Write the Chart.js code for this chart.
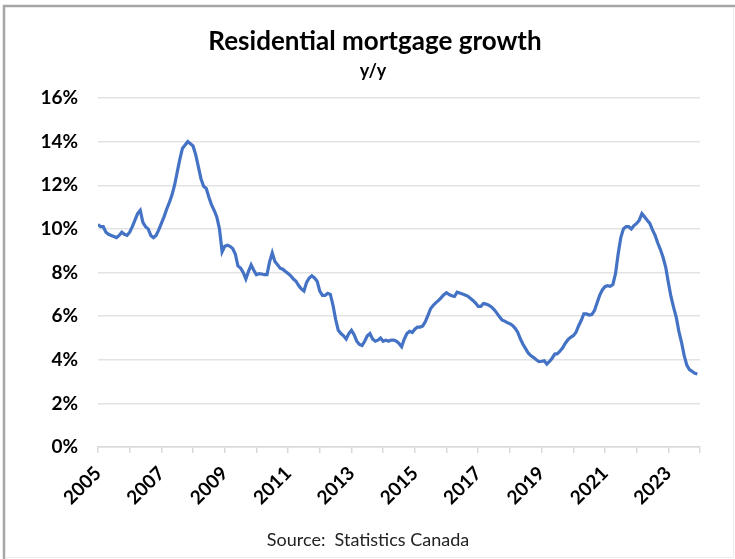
<!DOCTYPE html>
<html>
<head>
<meta charset="utf-8">
<title>Residential mortgage growth</title>
<script src="https://cdn.jsdelivr.net/npm/chart.js@4/dist/chart.umd.min.js"></script>
<style>
  html, body { margin: 0; padding: 0; background: #fff; }
  #wrap { position: relative; width: 735px; height: 559px; }
</style>
</head>
<body>
<div id="wrap">
  <canvas id="grafico" width="735" height="559"></canvas>
</div>
<script>
// Residential mortgage credit growth, y/y %, monthly (Jan..Dec of each year)
const anos = [2005, 2006, 2007, 2008, 2009, 2010, 2011, 2012, 2013, 2014,
              2015, 2016, 2017, 2018, 2019, 2020, 2021, 2022, 2023];

const y2005 = [10.2, 10.1, 10.1, 9.85, 9.75, 9.7, 9.65, 9.6, 9.7, 9.85, 9.75, 9.7];
const y2006 = [9.85, 10.1, 10.4, 10.7, 10.85, 10.3, 10.1, 10.0, 9.7, 9.6, 9.7, 9.95];
const y2007 = [10.25, 10.55, 10.9, 11.2, 11.55, 12.0, 12.6, 13.2, 13.7, 13.85, 14.0, 13.9];
const y2008 = [13.8, 13.4, 12.85, 12.3, 11.95, 11.85, 11.45, 11.1, 10.85, 10.55, 10.0, 8.95];
const y2009 = [9.2, 9.25, 9.2, 9.1, 8.85, 8.3, 8.2, 8.0, 7.7, 8.05, 8.35, 8.1];
const y2010 = [7.9, 7.95, 7.93, 7.9, 7.9, 8.5, 8.9, 8.5, 8.35, 8.2, 8.15, 8.05];
const y2011 = [7.95, 7.85, 7.7, 7.6, 7.4, 7.25, 7.15, 7.55, 7.75, 7.85, 7.75, 7.6];
const y2012 = [7.15, 6.95, 6.95, 7.05, 7.0, 6.5, 5.85, 5.35, 5.2, 5.1, 4.95, 5.2];
const y2013 = [5.35, 5.15, 4.85, 4.7, 4.65, 4.85, 5.1, 5.2, 4.95, 4.85, 4.9, 5.0];
const y2014 = [4.85, 4.9, 4.85, 4.9, 4.9, 4.85, 4.75, 4.6, 4.95, 5.2, 5.3, 5.25];
const y2015 = [5.4, 5.5, 5.5, 5.55, 5.75, 6.05, 6.35, 6.5, 6.62, 6.72, 6.85, 6.98];
const y2016 = [7.07, 6.99, 6.93, 6.9, 7.1, 7.06, 7.02, 6.97, 6.92, 6.82, 6.72, 6.6];
const y2017 = [6.45, 6.45, 6.58, 6.55, 6.5, 6.42, 6.3, 6.15, 5.98, 5.82, 5.77, 5.7];
const y2018 = [5.65, 5.57, 5.44, 5.25, 4.95, 4.7, 4.5, 4.3, 4.18, 4.1, 4.0, 3.92];
const y2019 = [3.93, 3.95, 3.8, 3.92, 4.07, 4.26, 4.28, 4.4, 4.55, 4.76, 4.92, 5.03];
const y2020 = [5.1, 5.25, 5.55, 5.8, 6.1, 6.1, 6.05, 6.07, 6.25, 6.6, 6.95, 7.2];
const y2021 = [7.35, 7.4, 7.37, 7.45, 7.95, 8.85, 9.6, 10.0, 10.1, 10.1, 10.0, 10.15];
const y2022 = [10.25, 10.4, 10.7, 10.55, 10.4, 10.25, 9.95, 9.7, 9.35, 9.05, 8.7, 8.25];
const y2023 = [7.55, 6.9, 6.4, 5.95, 5.3, 4.8, 4.2, 3.75, 3.55, 3.47, 3.38, 3.35];

const porAno = [y2005, y2006, y2007, y2008, y2009, y2010, y2011, y2012, y2013, y2014,
                y2015, y2016, y2017, y2018, y2019, y2020, y2021, y2022, y2023];

// eixo y: 0% a 16%, de 2 em 2
const yMin = 0, yMax = 16, yPasso = 2;

const titulo = 'Residential mortgage growth';
const subtitulo = 'y/y';
const fonte = 'Source:  Statistics Canada';

// monta os pontos (ano + mês/12, valor)
const pontos = [];
anos.forEach(function(ano, i) {
  porAno[i].forEach(function(v, m) {
    pontos.push({ x: ano + m / 12, y: v });
  });
});

const familia = 'Lato, "Open Sans", sans-serif';

// moldura + títulos + fonte desenhados no canvas
const textosExtras = {
  id: 'textosExtras',
  beforeDraw(chart) {
    const ctx = chart.ctx;
    ctx.save();
    ctx.fillStyle = '#fff';
    ctx.fillRect(0, 0, chart.width, chart.height);
    ctx.strokeStyle = '#a6a6a6';
    ctx.lineWidth = 2.5;
    ctx.beginPath();
    ctx.moveTo(4, chart.height);
    ctx.lineTo(4, 6);
    ctx.lineTo(chart.width, 6);
    ctx.stroke();
    ctx.strokeStyle = '#ececec';
    ctx.lineWidth = 1;
    ctx.beginPath();
    ctx.moveTo(733.5, 8);
    ctx.lineTo(733.5, 557.5);
    ctx.lineTo(5, 557.5);
    ctx.stroke();
    ctx.restore();
  },
  afterDraw(chart) {
    const ctx = chart.ctx;
    ctx.save();
    ctx.textAlign = 'center';
    ctx.textBaseline = 'middle';
    ctx.fillStyle = '#000';
    ctx.font = 'bold 26px ' + familia;
    ctx.fillText(titulo, 375, 42);
    ctx.font = 'bold 18px ' + familia;
    ctx.fillText(subtitulo, 373, 71);
    ctx.fillStyle = '#222';
    ctx.font = '18px ' + familia;
    ctx.fillText(fonte, 368, 540);
    ctx.restore();
  }
};

const ctx = document.getElementById('grafico').getContext('2d');
window.grafico = new Chart(ctx, {
  type: 'line',
  data: {
    datasets: [{
      label: 'Residential mortgage growth',
      data: pontos,
      borderColor: '#4472C4',
      borderWidth: 3.2,
      pointRadius: 0,
      tension: 0,
      fill: false
    }]
  },
  options: {
    responsive: false,
    animation: false,
    layout: { padding: { top: 98, left: 5, right: 35, bottom: 0 } },
    plugins: {
      legend: { display: false },
      tooltip: { enabled: false }
    },
    scales: {
      x: { // horizontal
        type: 'linear',
        min: 2005,
        max: 2024,
        afterFit: function(s) { s.height = 112; },
        afterBuildTicks: function(s) {
          s.ticks = [];
          for (let a = 2005; a <= 2024; a++) s.ticks.push({ value: a });
        },
        ticks: {
          autoSkip: false,
          maxRotation: 45,
          minRotation: 45,
          padding: 9,
          color: '#000',
          font: { family: familia, size: 19, weight: 'bold' },
          callback: function(v) { return (v % 2 === 1 && v < 2024) ? String(v) : ''; }
        },
        grid: {
          drawOnChartArea: false,
          drawTicks: true,
          tickLength: 6,
          color: '#d9d9d9',
          lineWidth: 1.5
        },
        border: { display: true, color: '#d9d9d9', width: 1.5 }
      },
      y: { // vertical
        min: yMin,
        max: yMax,
        afterFit: function(s) { s.width = 93; },
        ticks: {
          stepSize: yPasso,
          padding: 20,
          color: '#000',
          font: { family: familia, size: 19, weight: 'bold' },
          callback: function(v) { return v + '%'; }
        },
        grid: {
          drawTicks: false,
          color: '#e3e3e3',
          lineWidth: 1.5
        },
        border: { display: false }
      }
    }
  },
  plugins: [textosExtras]
});
</script>
</body>
</html>
